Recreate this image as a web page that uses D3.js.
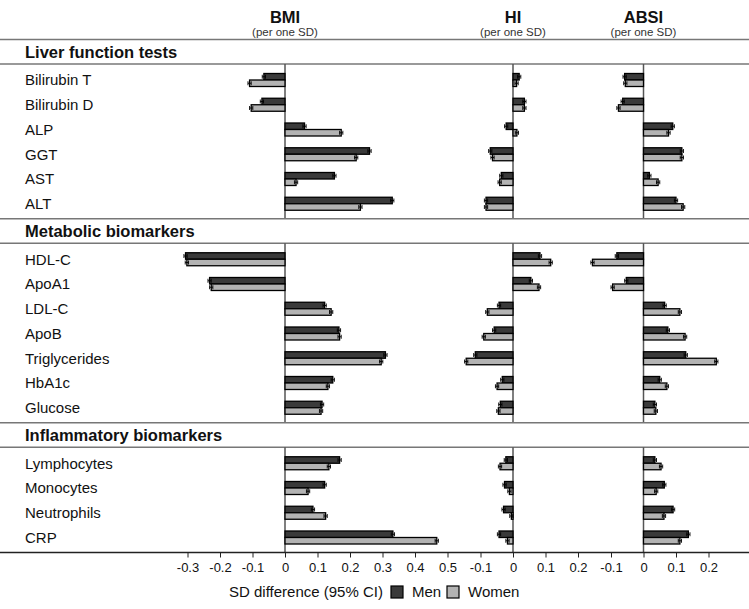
<!DOCTYPE html>
<html><head><meta charset="utf-8">
<script src="https://cdn.jsdelivr.net/npm/d3@7"></script>
<style>body{margin:0;background:#fff}svg{display:block;font-family:"Liberation Sans",Arial,sans-serif}</style>
</head><body>
<svg id="c" width="749" height="609"></svg>
<script>
const sections = ["Liver function tests", "Metabolic biomarkers", "Inflammatory biomarkers"];
const categories = [
  ["Bilirubin T", "Bilirubin D", "ALP", "GGT", "AST", "ALT"],
  ["HDL-C", "ApoA1", "LDL-C", "ApoB", "Triglycerides", "HbA1c", "Glucose"],
  ["Lymphocytes", "Monocytes", "Neutrophils", "CRP"]
];
const panels = ["BMI", "HI", "ABSI"];
const panelSub = "(per one SD)";
// values in category order (liver, metabolic, inflammatory)
const bmiMen   = [-0.065,-0.071,0.060,0.260,0.152,0.330, -0.306,-0.232,0.122,0.166,0.309,0.147,0.114, 0.168,0.122,0.086,0.332];
const bmiWomen = [-0.109,-0.104,0.173,0.219,0.034,0.232, -0.302,-0.227,0.142,0.168,0.296,0.132,0.111, 0.135,0.071,0.125,0.467];
const hiMen    = [0.019,0.035,-0.021,-0.070,-0.036,-0.083, 0.083,0.055,-0.043,-0.058,-0.116,-0.033,-0.039, -0.022,-0.026,-0.029,-0.043];
const hiWomen  = [0.011,0.035,0.012,-0.063,-0.041,-0.083, 0.116,0.080,-0.079,-0.090,-0.144,-0.049,-0.045, -0.040,-0.011,-0.005,-0.017];
const absiMen  = [-0.058,-0.064,0.090,0.118,0.018,0.100, -0.082,-0.053,0.065,0.075,0.130,0.050,0.035, 0.035,0.064,0.091,0.138];
const absiWomen= [-0.056,-0.077,0.077,0.118,0.045,0.122, -0.157,-0.095,0.112,0.128,0.224,0.072,0.038, 0.054,0.039,0.063,0.112];
const ciHalf = 0.005;
const bmiTicks = [-0.3,-0.2,-0.1,0,0.1,0.2,0.3,0.4,0.5];
const hiTicks = [-0.1,0,0.1,0.2];
const absiTicks = [-0.1,0,0.1,0.2];
const legendTitle = "SD difference (95% CI)";
const seriesNames = ["Men", "Women"];

const W = 749;
const svg = d3.select("#c");
const colors = {Men: "#3a3a3a", Women: "#b3b3b3"};

const xs = [
  d3.scaleLinear().domain([-0.3, 0.5]).range([187.5, 447.5]),
  d3.scaleLinear().domain([-0.1, 0.2]).range([480.5, 578]),
  d3.scaleLinear().domain([-0.1, 0.2]).range([611, 708.5])
];
const ticks = [bmiTicks, hiTicks, absiTicks];
const men = [bmiMen, hiMen, absiMen];
const women = [bmiWomen, hiWomen, absiWomen];

// vertical layout
const top0 = 39.5, headH = 24.5, rowStep = 24.75, padTop = 16, padBot = 15;
let y = top0, idx = 0;
const rows = [], secs = [];
categories.forEach((cats, s) => {
  const sec = {name: sections[s], lineTop: y, headC: y + headH/2, lineBot: y + headH};
  y += headH;
  cats.forEach((c, i) => { rows.push({name: c, y: y + padTop + i*rowStep, idx: idx++}); });
  y += padTop + (cats.length - 1)*rowStep + padBot;
  sec.end = y;
  secs.push(sec);
});
const axisY = y;

// horizontal lines
secs.forEach(sec => {
  svg.append("line").attr("x1",0).attr("x2",W).attr("y1",sec.lineTop).attr("y2",sec.lineTop).attr("stroke","#777").attr("stroke-width",1.5);
  svg.append("line").attr("x1",0).attr("x2",W).attr("y1",sec.lineBot).attr("y2",sec.lineBot).attr("stroke","#777").attr("stroke-width",1.5);
  svg.append("text").attr("x",25).attr("y",sec.headC).attr("dy","0.36em").attr("font-size",16.5).attr("font-weight","bold").attr("fill","#111").text(sec.name);
  xs.forEach(x => {
    svg.append("line").attr("x1",x(0)).attr("x2",x(0)).attr("y1",sec.lineBot).attr("y2",sec.end).attr("stroke","#555").attr("stroke-width",1.5);
  });
});

// panel headers
panels.forEach((p, i) => {
  svg.append("text").attr("x", xs[i](0)).attr("y", 23).attr("text-anchor","middle").attr("font-size",16.5).attr("font-weight","bold").attr("fill","#111").text(p);
  svg.append("text").attr("x", xs[i](0)).attr("y", 35.5).attr("text-anchor","middle").attr("font-size",11.5).attr("fill","#333").text(panelSub);
});

// row labels
svg.selectAll("text.row").data(rows).enter().append("text").attr("class","row")
  .attr("x",25).attr("y",d=>d.y).attr("dy","0.35em").attr("font-size",15).attr("fill","#111").text(d=>d.name);

// bars
const barH = 6.5;
xs.forEach((x, p) => {
  const g = svg.append("g");
  [["Men", men[p], -barH], ["Women", women[p], 0]].forEach(([name, vals, off]) => {
    rows.forEach(r => {
      const v = vals[r.idx];
      g.append("rect").attr("x", Math.min(x(0), x(v))).attr("y", r.y + off)
        .attr("width", Math.abs(x(v) - x(0))).attr("height", barH)
        .attr("fill", colors[name]).attr("stroke","#000").attr("stroke-width",1.3);
      const cy = r.y + off + barH/2;
      g.append("line").attr("x1", x(v-ciHalf)).attr("x2", x(v+ciHalf)).attr("y1",cy).attr("y2",cy).attr("stroke","#000").attr("stroke-width",0.9);
      [v-ciHalf, v+ciHalf].forEach(e => g.append("line").attr("x1",x(e)).attr("x2",x(e)).attr("y1",cy-2).attr("y2",cy+2).attr("stroke","#000").attr("stroke-width",0.9));
    });
  });
});

// axis
svg.append("line").attr("x1",0).attr("x2",W).attr("y1",axisY).attr("y2",axisY).attr("stroke","#222").attr("stroke-width",1.5);
xs.forEach((x, i) => {
  const ax = svg.append("g").attr("transform",`translate(0,${axisY})`)
    .call(d3.axisBottom(x).tickValues(ticks[i]).tickSize(5).tickSizeOuter(0)
      .tickFormat(d => d === 0 ? "0" : String(+d.toFixed(1))));
  ax.select(".domain").remove();
  ax.selectAll("text").attr("font-size",13).attr("font-family","Liberation Sans, Arial, sans-serif").attr("fill","#111").attr("dy","0.9em");
  ax.selectAll("line").attr("stroke","#222");
});

// legend
const ly = 592;
svg.append("text").attr("x",229).attr("y",ly).attr("dy","0.35em").attr("font-size",15).attr("fill","#111").text(legendTitle);
const lx = [391, 447];
seriesNames.forEach((n, i) => {
  svg.append("rect").attr("x",lx[i]).attr("y",ly-6).attr("width",12).attr("height",12).attr("fill",colors[n]).attr("stroke","#000").attr("stroke-width",1.2);
  svg.append("text").attr("x",lx[i]+21).attr("y",ly).attr("dy","0.35em").attr("font-size",15).attr("fill","#111").text(n);
});
</script>
</body></html>
